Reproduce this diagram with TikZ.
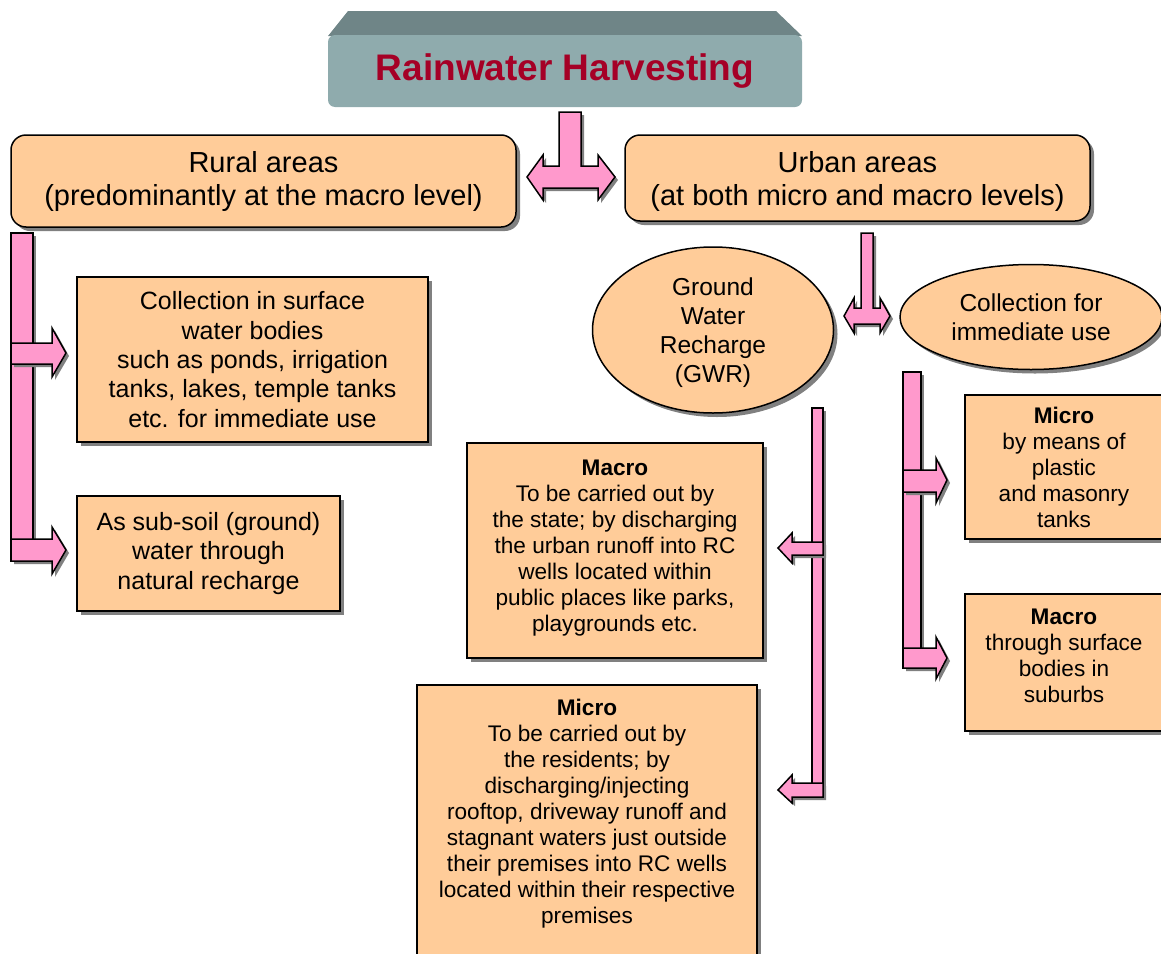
\documentclass[tikz,border=0pt]{standalone}
\usepackage{fontspec}
\setmainfont{Liberation Sans}
\usetikzlibrary{shapes.geometric,shadows}
\definecolor{peach}{HTML}{FFCC99}
\definecolor{pinkbar}{HTML}{FF99CC}
\definecolor{titlered}{HTML}{A50026}
\definecolor{titlefront}{HTML}{8FABAD}
\definecolor{titletop}{HTML}{6F8587}
\definecolor{shadowgray}{HTML}{808080}
\tikzset{
  shade/.style={drop shadow={shadow xshift=4pt,shadow yshift=-4pt,fill=shadowgray,opacity=1}},
  pshade/.style={drop shadow={shadow xshift=3pt,shadow yshift=-3pt,fill=shadowgray,opacity=1}},
  bigbox/.style={shade,draw=black,line width=1.5pt,fill=peach,rounded corners=15pt,inner sep=0pt,align=center,font=\fontsize{29}{33}\selectfont},
  midbox/.style={shade,draw=black,line width=1.5pt,fill=peach,inner sep=0pt,align=center,font=\fontsize{25}{29.3}\selectfont},
  smallbox/.style={shade,draw=black,line width=1.5pt,fill=peach,inner sep=0pt,align=center,font=\fontsize{22.6}{26}\selectfont},
  oval/.style={shade,ellipse,draw=black,line width=1.5pt,fill=peach,inner sep=0pt,align=center,font=\fontsize{24.5}{29}\selectfont},
  blockarrow/.style={pshade,draw=black,line width=1.5pt,fill=pinkbar,line join=miter},
}
\begin{document}
\begin{tikzpicture}[x=1pt,y=-1pt]
\useasboundingbox (0,0) rectangle (1161,953);
\clip (0,0) rectangle (1161,953);
% title block
\fill[titletop] (348,11) -- (776,11) -- (802,36) -- (328,36) -- cycle;
\node[fill=titlefront,rounded corners=7pt,minimum width=474pt,minimum height=72pt,inner sep=0pt,
      font=\fontsize{37}{40}\selectfont\bfseries,text=titlered] (title) at (565,71) {Rainwater Harvesting};
% top T arrow
\draw[blockarrow] (559,112) -- (581,112) -- (581,166) -- (598,166) -- (598,155) -- (615,177) -- (598,200) -- (598,188)
  -- (543,188) -- (543,200) -- (527,177) -- (543,155) -- (543,166) -- (559,166) -- cycle;
% area boxes
\node[bigbox,minimum width=505pt,minimum height=92pt] (rural) at (263.5,181) {Rural areas\\(predominantly at the macro level)};
\node[bigbox,minimum width=465pt,minimum height=86pt,text depth=0pt] (urban) at (857.5,178) {Urban areas\\(at both micro and macro levels)};
% rural branch
\draw[blockarrow] (11,233) rectangle (33,561);
\draw[blockarrow] (11,343) -- (52,343) -- (52,328) -- (66,353) -- (52,377) -- (52,364) -- (11,364) -- cycle;
\draw[blockarrow] (11,539) -- (52,539) -- (52,527) -- (66,550) -- (52,574) -- (52,561) -- (11,561) -- cycle;
\node[midbox,minimum width=351pt,minimum height=165pt] (surface) at (252.5,359.5)
  {Collection in surface\\water bodies\\such as ponds, irrigation\\tanks, lakes, temple tanks\\etc. for immediate use};
\node[midbox,minimum width=263pt,minimum height=115pt] (subsoil) at (208.5,553.5)
  {As sub-soil (ground)\\water through\\natural recharge};
% urban split arrow
\draw[blockarrow] (861,233) -- (873,233) -- (873,308) -- (880,308) -- (880,298) -- (890,316) -- (880,333) -- (880,324)
  -- (854,324) -- (854,333) -- (844,316) -- (854,298) -- (854,308) -- (861,308) -- cycle;
\node[oval,minimum width=241pt,minimum height=166pt,text depth=0pt] (gwr) at (713,330) {Ground\\Water\\Recharge\\(GWR)};
\node[oval,minimum width=262pt,minimum height=105pt] (coll) at (1031,317) {Collection for\\immediate use};
% GWR branch
\draw[blockarrow] (812,408) rectangle (823,797);
\draw[blockarrow] (823,542) -- (792,542) -- (792,533) -- (778,548) -- (792,563) -- (792,555) -- (823,555) -- cycle;
\draw[blockarrow] (823,783) -- (792,783) -- (792,775) -- (778,790) -- (792,803) -- (792,797) -- (823,797) -- cycle;
\node[smallbox,minimum width=296pt,minimum height=215pt,text depth=10.5pt] (gmacro) at (615,550.5)
  {\textbf{Macro}\\To be carried out by\\the state; by discharging\\the urban runoff into RC\\wells located within\\public places like parks,\\playgrounds etc.};
\node[smallbox,minimum width=340pt,minimum height=273pt,text depth=21pt] (gmicro) at (587,821.5)
  {\textbf{Micro}\\To be carried out by\\the residents; by\\discharging/injecting\\rooftop, driveway runoff and\\stagnant waters just outside\\their premises into RC wells\\located within their respective\\premises};
% collection branch
\draw[blockarrow] (903,372) rectangle (921,668);
\draw[blockarrow] (903,470) -- (936,470) -- (936,458) -- (947,480) -- (936,503) -- (936,492) -- (903,492) -- cycle;
\draw[blockarrow] (903,648) -- (936,648) -- (936,637) -- (947,658) -- (936,679) -- (936,668) -- (903,668) -- cycle;
\node[smallbox,minimum width=198pt,minimum height=144pt] (cmicro) at (1064,467)
  {\textbf{Micro}\\by means of\\plastic\\and masonry\\tanks};
\node[smallbox,minimum width=198pt,minimum height=137pt,text depth=14pt] (cmacro) at (1064,662.5)
  {\textbf{Macro}\\through surface\\bodies in\\suburbs};
\end{tikzpicture}
\end{document}
